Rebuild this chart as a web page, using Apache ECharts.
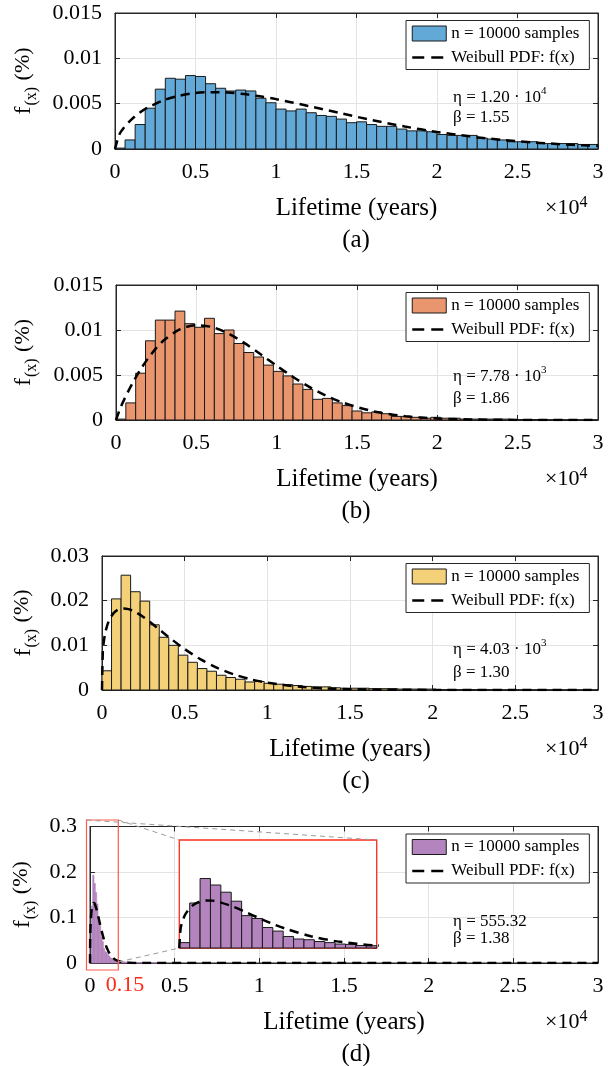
<!DOCTYPE html>
<html><head><meta charset="utf-8">
<script src="https://cdn.jsdelivr.net/npm/echarts@6/dist/echarts.min.js"></script>
<style>html,body{margin:0;padding:0;background:#fff}#c{width:608px;height:1066px}</style>
</head><body><div id="c"></div>
<script>
// ---------- DATA ----------
const xTickLabels = ['0', '0.5', '1', '1.5', '2', '2.5', '3'];   // ×10^4
const histLabel = 'n = 10000 samples';
const pdfLabel = 'Weibull PDF: f(x)';
const captions = ['(a)', '(b)', '(c)', '(d)'];
const etaText = ['η = 1.20 · 10', 'η = 7.78 · 10', 'η = 4.03 · 10', 'η = 555.32'];
const etaSup = ['4', '3', '3', ''];
const betaText = ['β = 1.55', 'β = 1.86', 'β = 1.30', 'β = 1.38'];

const binW_a = 625;
const hist_a = [0.0001,0.0010,0.0027,0.0045,0.0066,0.0078,0.0077,0.0081,0.0080,0.0072,0.0067,0.0064,
  0.0065,0.0064,0.0056,0.0051,0.0044,0.0042,0.0044,0.0040,0.0037,0.0036,0.0033,0.0029,0.0030,0.0027,
  0.0025,0.0025,0.0022,0.0020,0.0020,0.0019,0.0016,0.0015,0.0015,0.0015,0.0012,0.0011,0.0010,0.0008,
  0.0008,0.0008,0.0006,0.0006,0.0006,0.0006,0.0005,0.0005];
const pdf_a = [[0,0],[250,0.00153],[500,0.00223],[1000,0.00322],[1500,0.00396],[2000,0.00453],[3000,0.00536],
  [4000,0.00588],[5000,0.00617],[6000,0.00627],[7000,0.00622],[8000,0.00606],[9000,0.00581],[10000,0.00550],
  [12000,0.00475],[14000,0.00395],[16000,0.00317],[18000,0.00248],[20000,0.00188],[22000,0.00140],
  [24000,0.00101],[26000,0.00072],[28000,0.00050],[30000,0.00034]];

const binW_b = 612.2;
const hist_b = [0.0001,0.0019,0.0052,0.0088,0.0111,0.0111,0.0121,0.0107,0.0103,0.0113,0.0096,0.0100,
  0.0085,0.0075,0.0070,0.0061,0.0054,0.0049,0.0040,0.0034,0.0023,0.0024,0.0019,0.0016,0.0010,0.0008,
  0.0009,0.0007,0.0004,0.0004,0.0003,0.0002,0.0003,0.0002,0.0002,0.0001,0.0001,0.0001,0.0001,0.0001,
  0.00005,0.00005,0.00005,0.00003,0.00003,0.00002,0.00002,0.00001,0.00001];
const pdf_b = [[0,0],[250,0.00124],[500,0.00224],[1000,0.00401],[1500,0.00554],[2000,0.00686],[2500,0.00798],
  [3000,0.00889],[4000,0.01009],[5000,0.01053],[6000,0.01032],[7000,0.00960],[8000,0.00854],[9000,0.00730],
  [10000,0.00602],[11000,0.00480],[12000,0.00370],[13000,0.00277],[14000,0.00201],[16000,0.00097],
  [18000,0.00042],[20000,0.00017],[22000,0.00006],[25000,0.00001],[30000,0]];

const binW_c = 577;
const hist_c = [0.0043,0.0204,0.0257,0.0220,0.0199,0.0146,0.0118,0.0100,0.0078,0.0062,0.0048,0.0042,
  0.0033,0.0028,0.0024,0.0018,0.0019,0.0015,0.0013,0.0012,0.0010,0.0008,0.0007,0.0007,0.0005,0.0004,
  0.0004,0.0004,0.0003,0.0003,0.0003,0.0002,0.0002,0.0002,0.0002,0.0001,0.0001,0.0001,0.0001,0.0001,
  0.0001,0.0001,0.00005,0.00005,0.00005,0.00005,0.00003,0.00003,0.00003,0.00002,0.00002,0.00002];
const pdf_c = [[0,0],[50,0.00862],[100,0.01056],[200,0.01284],[400,0.01535],[700,0.01722],[1000,0.01804],
  [1300,0.01826],[1600,0.01810],[2000,0.01748],[2500,0.01633],[3000,0.01494],[3500,0.01345],[4000,0.01195],
  [5000,0.00916],[6000,0.00679],[7000,0.00490],[8000,0.00346],[9000,0.00239],[10000,0.00163],
  [12000,0.00072],[14000,0.00030],[16000,0.00012],[18000,0.00005],[20000,0.00002],[25000,0],[30000,0]];

const binW_d = 79;
const hist_d = [0.015,0.125,0.193,0.175,0.155,0.130,0.090,0.082,0.057,0.047,0.032,0.025,0.023,0.018,
  0.015,0.011,0.010,0.007,0.0065,0.005,0.0045,0.004,0.0035,0.003,0.003,0.0025,0.0022,0.002,0.0018,
  0.0015,0.0013,0.0012,0.001,0.001,0.0009,0.0008,0.0007,0.0006,0.0005,0.0005,0.0004,0.0004,0.0003,
  0.0003,0.0003,0.0002,0.0002,0.0002,0.0002,0.0001,0.0001,0.0001,0.0001];
const insetBins = 19;   // bins shown in the zoomed inset (0 – 1500 years)
const pdf_d = [[0,0],[10,0.0538],[25,0.0755],[50,0.0960],[100,0.1178],[150,0.1282],[200,0.1320],
  [250,0.1316],[300,0.1280],[400,0.1162],[500,0.1005],[600,0.0841],[700,0.0685],[800,0.0546],
  [1000,0.0327],[1200,0.0184],[1500,0.0071],[2000,0.0012],[2500,0.0002],[3000,0],[30000,0]];

// ---------- LAYOUT / STYLE ----------
const FONT = '"Liberation Serif","Times New Roman",serif';
const AX = '#262626';
const GRIDC = '#e3e3e3';
const panels = [
  {k:'a', g:{left:115, top:13, width:483, height:136}, yMax:0.015, yInt:0.005, hist:hist_a, bw:binW_a, pdf:pdf_a, color:'#62A9D8', etaY:96, betaY:118},
  {k:'b', g:{left:116, top:285, width:482, height:135}, yMax:0.015, yInt:0.005, hist:hist_b, bw:binW_b, pdf:pdf_b, color:'#E9966F', etaY:375, betaY:399},
  {k:'c', g:{left:102, top:556, width:496, height:134}, yMax:0.03, yInt:0.01, hist:hist_c, bw:binW_c, pdf:pdf_c, color:'#F4D178', etaY:648, betaY:673},
  {k:'d', g:{left:90, top:826.5, width:508, height:136.5}, yMax:0.3, yInt:0.1, hist:hist_d, bw:binW_d, pdf:pdf_d, color:'#B384BE', etaY:920, betaY:939}
];
const inset = {left:179.3, top:840, width:197.4, height:108};

function binsOf(h, bw, n) {
  const out = [];
  const m = n === undefined ? h.length : n;
  for (let i = 0; i < m; i++) out.push([i * bw, (i + 1) * bw, h[i]]);
  return out;
}
function renderBar(params, api) {
  const p0 = api.coord([api.value(0), api.value(2)]);
  const p1 = api.coord([api.value(1), 0]);
  const cs = params.coordSys;
  const r = echarts.graphic.clipRectByRect(
    {x: p0[0], y: p0[1], width: p1[0] - p0[0], height: p1[1] - p0[1]},
    {x: cs.x, y: cs.y, width: cs.width, height: cs.height});
  return r && {type: 'rect', shape: r, style: api.style()};
}

const grid = [], xAxis = [], yAxis = [], series = [], legend = [], graphic = [];
const yName = '{f|f}{s|(x)}{p| (%)}';
const yNameRich = {
  f: {fontSize: 24, fontFamily: FONT, color: '#000', lineHeight: 24, verticalAlign: 'top'},
  s: {fontSize: 16, fontFamily: FONT, color: '#000', lineHeight: 16, verticalAlign: 'top', padding: [12, 1, 0, 1]},
  p: {fontSize: 22, fontFamily: FONT, color: '#000', lineHeight: 24, verticalAlign: 'top'}
};
const tickStyle = {inside: true, length: 5, lineStyle: {color: AX, width: 1}};
const lineStyleAx = {show: true, onZero: false, lineStyle: {color: AX, width: 1}};
const pdfLine = {color: '#000', width: 2.5, type: [9, 6]};

panels.forEach((p, i) => {
  grid.push(Object.assign({show: true, borderColor: AX, borderWidth: 1, backgroundColor: '#fff'}, p.g));
  xAxis.push({gridIndex: i, type: 'value', min: 0, max: 30000, interval: 5000,
    axisLine: lineStyleAx, axisTick: tickStyle,
    axisLabel: {margin: 12, fontSize: 22, fontFamily: FONT, color: '#000',
      formatter: v => xTickLabels[Math.round(v / 5000)]},
    splitLine: {show: true, lineStyle: {color: GRIDC, width: 1}},
    name: 'Lifetime (years)', nameLocation: 'middle', nameGap: 47,
    nameTextStyle: {fontSize: 25, fontFamily: FONT, color: '#000'}});
  xAxis.push({gridIndex: i, type: 'value', position: 'top', min: 0, max: 30000, interval: 5000,
    axisLine: lineStyleAx, axisTick: tickStyle, axisLabel: {show: false}, splitLine: {show: false}});
  yAxis.push({gridIndex: i, type: 'value', min: 0, max: p.yMax, interval: p.yInt,
    axisLine: lineStyleAx, axisTick: tickStyle,
    axisLabel: {margin: 13, fontSize: 22, fontFamily: FONT, color: '#000'},
    splitLine: {show: true, lineStyle: {color: GRIDC, width: 1}},
    name: yName, nameLocation: 'middle', nameRotate: 90, nameGap: p.g.left - 22 - 14,
    nameTextStyle: {rich: yNameRich}});
  yAxis.push({gridIndex: i, type: 'value', position: 'right', min: 0, max: p.yMax, interval: p.yInt,
    axisLine: lineStyleAx, axisTick: tickStyle, axisLabel: {show: false}, splitLine: {show: false}});

  const hn = 'hist_' + p.k, pn = 'pdf_' + p.k;
  const isD = p.k === 'd';
  series.push({name: hn, type: 'custom', xAxisIndex: 2 * i, yAxisIndex: 2 * i,
    renderItem: renderBar, encode: {x: [0, 1], y: 2},
    itemStyle: {color: p.color, borderColor: isD ? p.color : '#1a1a1a', borderWidth: isD ? 0.6 : 1},
    data: binsOf(p.hist, p.bw), z: 2});
  series.push({name: pn, type: 'line', xAxisIndex: 2 * i, yAxisIndex: 2 * i, data: p.pdf,
    smooth: 0.3, symbol: 'none', clip: true, color: '#000', lineStyle: pdfLine, z: 3});
  legend.push({data: [
      {name: hn, icon: 'rect', itemStyle: {borderColor: '#1a1a1a', borderWidth: 1}},
      {name: pn, itemStyle: {color: 'rgba(0,0,0,0)', borderWidth: 0, opacity: 0},
       lineStyle: {color: '#000', width: 2.5, type: [12, 7]}}],
    formatter: n => n.indexOf('hist') === 0 ? histLabel : pdfLabel,
    orient: 'vertical', left: 406, top: p.g.top + 7.5, itemWidth: 34, itemHeight: 15, itemGap: 6,
    padding: [4, 10, 3, 5], backgroundColor: '#fff', borderColor: AX, borderWidth: 1,
    textStyle: {fontSize: 17, fontFamily: FONT, color: '#000', lineHeight: 18}, selectedMode: false});

  // annotations
  graphic.push({type: 'text', x: 453, y: p.etaY, z: 50, style: {
    text: '{m|' + etaText[i] + '}' + (etaSup[i] ? '{u|' + etaSup[i] + '}' : ''),
    rich: {m: {fontSize: 17, fontFamily: FONT, fill: '#000', lineHeight: 20, verticalAlign: 'bottom'},
           u: {fontSize: 11, fontFamily: FONT, fill: '#000', lineHeight: 11, verticalAlign: 'top'}},
    textVerticalAlign: 'middle'}});
  graphic.push({type: 'text', x: 453, y: p.betaY, z: 50, style: {text: betaText[i], fontSize: 17, fontFamily: FONT, fill: '#000', textVerticalAlign: 'middle'}});
  // ×10^4
  const axisY = p.g.top + p.g.height;
  graphic.push({type: 'text', x: 545, y: axisY + 58, z: 50, style: {
    text: '{m|×10}{u|4}',
    rich: {m: {fontSize: 22, fontFamily: FONT, fill: '#000', lineHeight: 24, verticalAlign: 'bottom'},
           u: {fontSize: 16, fontFamily: FONT, fill: '#000', lineHeight: 16, verticalAlign: 'top'}},
    textVerticalAlign: 'middle'}});
  graphic.push({type: 'text', x: 356, y: axisY + 91, z: 50, style: {text: captions[i], fontSize: 25, fontFamily: FONT, fill: '#000', textAlign: 'center', textVerticalAlign: 'middle'}});
});

// inset (zoom of panel d)
grid.push(Object.assign({show: true, borderColor: '#ff2a1a', borderWidth: 1.3, backgroundColor: '#fff', z: 5}, inset));
xAxis.push({gridIndex: 4, type: 'value', min: 0, max: insetBins * binW_d, axisLine: {show: false}, axisTick: {show: false},
  axisLabel: {show: false}, splitLine: {show: false}});
yAxis.push({gridIndex: 4, type: 'value', min: 0, max: 0.3, interval: 0.1, axisLine: {show: false}, axisTick: {show: false},
  axisLabel: {show: false}, splitLine: {show: true, lineStyle: {color: GRIDC}}});
yAxis.push({gridIndex: 4, type: 'value', position: 'right', min: 0, max: 0.3, interval: 0.1, axisLine: {show: false},
  axisTick: {inside: true, length: 4, lineStyle: {color: AX}}, axisLabel: {show: false}, splitLine: {show: false}});
series.push({name: 'hist_d_inset', type: 'custom', xAxisIndex: 8, yAxisIndex: 8, renderItem: renderBar, encode: {x: [0, 1], y: 2},
  itemStyle: {color: panels[3].color, borderColor: '#1a1a1a', borderWidth: 1}, data: binsOf(hist_d, binW_d, insetBins), z: 6});
series.push({name: 'pdf_d_inset', type: 'line', xAxisIndex: 8, yAxisIndex: 8, data: pdf_d, smooth: 0.3, symbol: 'none', clip: true,
  color: '#000', lineStyle: pdfLine, z: 7});

// red zoom box on panel d, its tick label and connector lines
graphic.push({type: 'rect', z: 40, shape: {x: 86.5, y: 820, width: 31.8, height: 150}, style: {fill: 'none', stroke: '#ff5a4a', lineWidth: 1.2}});
graphic.push({type: 'text', x: 125, y: 985, z: 40, style: {text: '0.15', fontSize: 22, fontFamily: FONT, fill: '#ff2a1a', textAlign: 'center', textVerticalAlign: 'middle'}});
const conn = [[86.5, 820, 376.7, 840], [118.3, 820, 179.3, 840], [118.3, 962, 179.3, 948]];
conn.forEach(c => graphic.push({type: 'line', z: 40, shape: {x1: c[0], y1: c[1], x2: c[2], y2: c[3]},
  style: {stroke: '#9a9a9a', lineWidth: 1, lineDash: [5, 4]}}));

const chart = echarts.init(document.getElementById('c'), null, {renderer: 'canvas'});
chart.setOption({animation: false, backgroundColor: '#fff', grid, xAxis, yAxis, series, legend, graphic});
</script></body></html>
